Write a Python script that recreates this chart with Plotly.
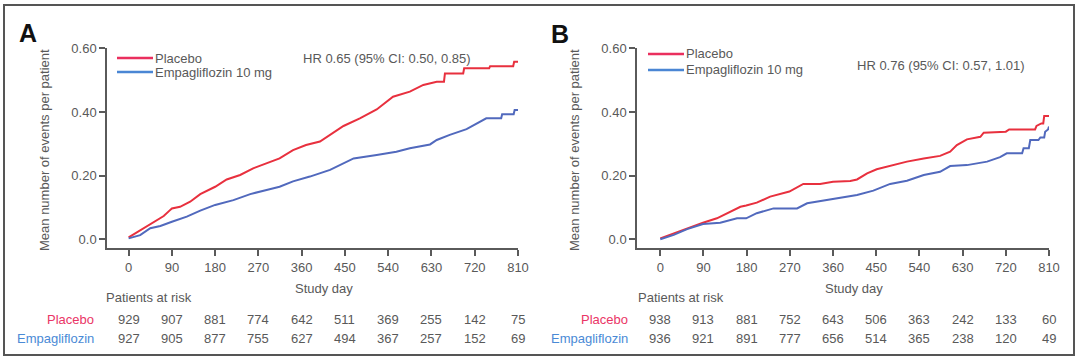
import plotly.graph_objects as go

# ---------------- data ----------------
days_ticks = [0, 90, 180, 270, 360, 450, 540, 630, 720, 810]
y_ticks = [0.0, 0.2, 0.4, 0.6]
y_ticklabels = ["0.0", "0.20", "0.40", "0.60"]

# Panel A (study day, mean events per patient)
a_pl_days = [0, 15, 31, 52, 73, 85, 90, 107, 128, 149, 170, 180, 204, 232, 259, 287, 314, 342,
             369, 398, 419, 447, 481, 516, 550, 585, 613, 641, 656, 658, 696, 698, 750, 752,
             800, 802, 810]
a_pl_vals = [0.006, 0.020, 0.035, 0.055, 0.073, 0.090, 0.097, 0.102, 0.118, 0.142, 0.157, 0.165,
             0.188, 0.202, 0.223, 0.239, 0.254, 0.280, 0.296, 0.307, 0.328, 0.356, 0.380, 0.408,
             0.448, 0.464, 0.485, 0.495, 0.495, 0.521, 0.521, 0.537, 0.537, 0.544, 0.544, 0.558,
             0.558]
a_em_days = [0, 24, 45, 66, 90, 121, 149, 180, 218, 253, 287, 314, 342, 377, 419, 447, 468, 516,
             557, 585, 627, 641, 668, 703, 724, 744, 775, 777, 801, 803, 810]
a_em_vals = [0.003, 0.013, 0.035, 0.042, 0.055, 0.071, 0.090, 0.108, 0.123, 0.142, 0.155, 0.165,
             0.182, 0.197, 0.218, 0.239, 0.254, 0.265, 0.275, 0.286, 0.298, 0.312, 0.328, 0.346,
             0.364, 0.380, 0.380, 0.393, 0.393, 0.406, 0.406]
a_risk_pl = [929, 907, 881, 774, 642, 511, 369, 255, 142, 75]
a_risk_em = [927, 905, 877, 755, 627, 494, 367, 257, 152, 69]
a_hr = "HR 0.65 (95% CI: 0.50, 0.85)"

# Panel B
b_pl_days = [0, 28, 56, 89, 118, 146, 167, 179, 201, 229, 269, 298, 333, 360, 396, 410, 431, 451,
             479, 514, 549, 583, 604, 618, 639, 667, 674, 720, 727, 781, 784, 794, 798, 800, 810]
b_pl_vals = [0.003, 0.019, 0.035, 0.052, 0.066, 0.087, 0.102, 0.106, 0.115, 0.134, 0.150, 0.174,
             0.174, 0.181, 0.183, 0.188, 0.207, 0.220, 0.230, 0.244, 0.254, 0.262, 0.275, 0.296,
             0.314, 0.322, 0.335, 0.338, 0.345, 0.345, 0.356, 0.364, 0.364, 0.387, 0.387]
b_em_days = [0, 28, 56, 89, 125, 160, 179, 201, 236, 285, 306, 340, 360, 396, 410, 444, 479, 514,
             549, 583, 604, 639, 667, 681, 708, 722, 754, 757, 768, 771, 788, 792, 800, 802, 808,
             810]
b_em_vals = [0.0, 0.014, 0.032, 0.048, 0.052, 0.066, 0.066, 0.082, 0.097, 0.097, 0.113, 0.121,
             0.126, 0.136, 0.139, 0.153, 0.174, 0.184, 0.202, 0.212, 0.230, 0.233, 0.239, 0.244,
             0.258, 0.270, 0.270, 0.286, 0.286, 0.312, 0.312, 0.320, 0.320, 0.338, 0.345, 0.354]
b_risk_pl = [938, 913, 881, 752, 643, 506, 363, 242, 133, 60]
b_risk_em = [936, 921, 891, 777, 656, 514, 365, 238, 120, 49]
b_hr = "HR 0.76 (95% CI: 0.57, 1.01)"

# ---------------- style ----------------
W, H = 1080, 363
FONT = "Arial, Liberation Sans, sans-serif"
GRAY = "#595959"
AXC = "#5a5a5a"
RED = "#e8303e"
BLUE = "#5169bd"
RED_LEG = "#ea2f5e"
BLUE_LEG = "#4a86d4"
RED_TXT = "#ea3566"
BLUE_TXT = "#4a8ad6"


def px(x):
    return x / W


def py(y):
    return 1 - y / H


fig = go.Figure()

panels = [
    dict(xa="x", ya="y", xd=[px(107), px(518)], xr=[-45, 810],
         pl=(a_pl_days, a_pl_vals), em=(a_em_days, a_em_vals),
         rpl=a_risk_pl, rem=a_risk_em, hr=a_hr, letter="A",
         letter_xy=(28, 33), leg_x=(117, 155), leg_y=(58, 72), hr_xy=(301, 58),
         lab_r=96, par_x=104, ytitle_x=45),
    dict(xa="x2", ya="y2", xd=[px(637), px(1049)], xr=[-48.5, 810],
         pl=(b_pl_days, b_pl_vals), em=(b_em_days, b_em_vals),
         rpl=b_risk_pl, rem=b_risk_em, hr=b_hr, letter="B",
         letter_xy=(560, 34), leg_x=(648, 686), leg_y=(54, 70), hr_xy=(855, 65),
         lab_r=630, par_x=636, ytitle_x=575),
]


def ann(x, y, text, xanchor="center", color=GRAY, size=13, xref="paper", **kw):
    d = dict(x=x, y=y, xref=xref, yref="paper", text=text, showarrow=False,
             xanchor=xanchor, yanchor="middle",
             font=dict(family=kw.pop("family", FONT), size=size, color=color))
    d.update(kw)
    return d


annotations = []
shapes = []
for i, p in enumerate(panels):
    sfx = "" if i == 0 else str(i + 1)
    fig.add_trace(go.Scatter(x=p["pl"][0], y=p["pl"][1], mode="lines",
                             line=dict(color=RED, width=2), xaxis=p["xa"], yaxis=p["ya"],
                             showlegend=False, hoverinfo="skip"))
    fig.add_trace(go.Scatter(x=p["em"][0], y=p["em"][1], mode="lines",
                             line=dict(color=BLUE, width=2), xaxis=p["xa"], yaxis=p["ya"],
                             showlegend=False, hoverinfo="skip"))
    fig.update_layout(**{
        "xaxis" + sfx: dict(domain=p["xd"], range=p["xr"], tickvals=days_ticks,
                            showline=True, linecolor=AXC, linewidth=1.5, ticks="outside",
                            ticklen=6, tickwidth=1.5, tickcolor=AXC, showgrid=False,
                            zeroline=False, anchor=p["ya"], automargin=False,
                            tickfont=dict(family=FONT, size=13, color=GRAY)),
        "yaxis" + sfx: dict(domain=[py(248.3), py(48.3)], range=[-0.0283, 0.6],
                            tickvals=y_ticks, ticktext=y_ticklabels,
                            showline=True, linecolor=AXC, linewidth=1.5, ticks="outside",
                            ticklen=6, tickwidth=1.5, tickcolor=AXC, showgrid=False,
                            zeroline=False, anchor=p["xa"], automargin=False,
                            tickfont=dict(family=FONT, size=13, color=GRAY)),
    })
    x0p, x1p = p["xd"][0] * W, p["xd"][1] * W
    # axis titles
    annotations.append(ann(px(p["ytitle_x"]), py(150), "Mean number of events per patient",
                           textangle=-90))
    annotations.append(ann(px((x0p + x1p) / 2 + 11), py(288), "Study day"))
    # panel letter
    annotations.append(ann(px(p["letter_xy"][0]), py(p["letter_xy"][1]),
                           "<b>%s</b>" % p["letter"], size=25, color="#111111",
                           family="Arial Black, Arial, Liberation Sans"))
    # legend
    lx0, lx1 = p["leg_x"]
    for yy, col, txt in [(p["leg_y"][0], RED_LEG, "Placebo"),
                         (p["leg_y"][1], BLUE_LEG, "Empagliflozin 10 mg")]:
        shapes.append(dict(type="line", xref="paper", yref="paper", x0=px(lx0), x1=px(lx1 - 2),
                           y0=py(yy), y1=py(yy), line=dict(color=col, width=2.5)))
        annotations.append(ann(px(lx1 - 2), py(yy), txt, xanchor="left"))
    annotations.append(ann(px(p["hr_xy"][0]), py(p["hr_xy"][1]), p["hr"], xanchor="left"))
    # patients at risk
    annotations.append(ann(px(p["par_x"]), py(297), "Patients at risk", xanchor="left"))
    for yy, col, lab, vals in [(319.5, RED_TXT, "Placebo", p["rpl"]),
                               (338.5, BLUE_TXT, "Empagliflozin", p["rem"])]:
        annotations.append(ann(px(p["lab_r"]), py(yy), lab, xanchor="right", color=col))
        for d, v in zip(days_ticks, vals):
            annotations.append(ann(d, py(yy), str(v), xref=p["xa"]))

# outer frame
shapes.append(dict(type="rect", xref="paper", yref="paper", x0=px(4), x1=px(1074),
                   y0=py(355), y1=py(5), line=dict(color="#555555", width=2)))

fig.update_layout(width=W, height=H,
                  margin=dict(l=0, r=0, t=0, b=0, pad=0, autoexpand=False),
                  paper_bgcolor="white", plot_bgcolor="white",
                  annotations=annotations, shapes=shapes, showlegend=False)

fig.write_html("out.html", config={"displayModeBar": False},
               post_script="document.body.style.margin='0';"
                           "document.body.style.overflow='hidden';")
